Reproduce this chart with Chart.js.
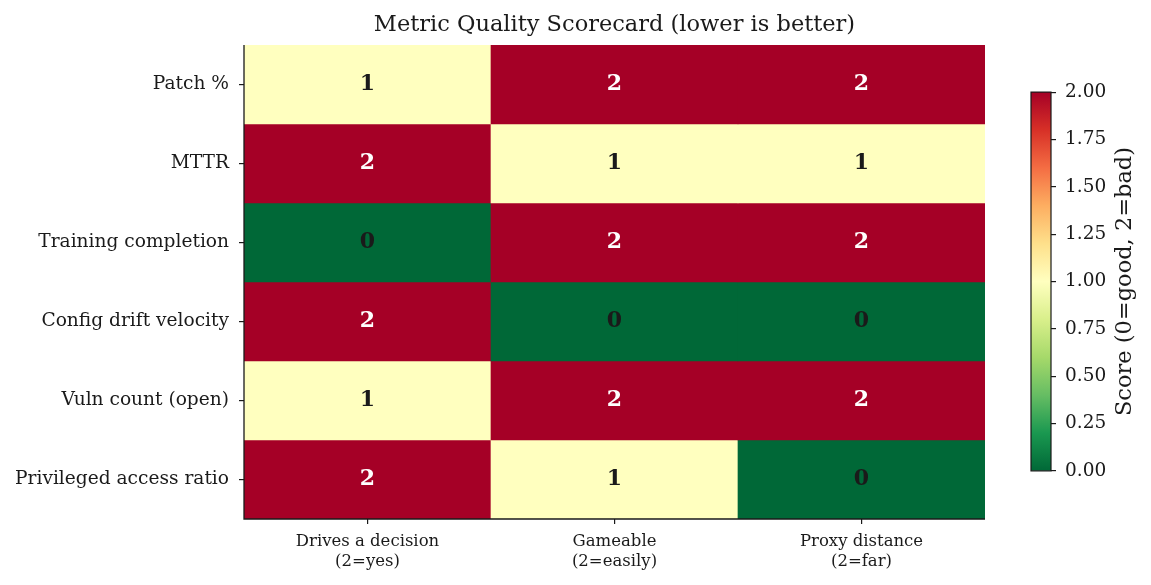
<!DOCTYPE html>
<html>
<head>
<meta charset="utf-8">
<script src="https://cdn.jsdelivr.net/npm/chart.js@4"></script>
<style>
    html, body { margin: 0; padding: 0; background: #ffffff; }
    #wrap { position: relative; width: 1151px; height: 585px; }
    #heatCanvas { position: absolute; left: 0; top: 0; }
    #barCanvas { position: absolute; left: 1011px; top: 72px; }
</style>
</head>
<body>
<div id="wrap">
    <canvas id="heatCanvas" width="1151" height="585"></canvas>
    <canvas id="barCanvas" width="140" height="419"></canvas>
</div>
<script>
// ========================================
// Metric Quality Scorecard - heatmap
// ========================================

const metricNames = ['Patch %', 'MTTR', 'Training completion', 'Config drift velocity', 'Vuln count (open)', 'Privileged access ratio'];
const criteriaLabels = [['Drives a decision', '(2=yes)'], ['Gameable', '(2=easily)'], ['Proxy distance', '(2=far)']];

// score per metric, one array per criterion (0 = good, 2 = bad)
const drivesDecision = [1, 2, 0, 2, 1, 2];
const gameable = [2, 1, 2, 0, 2, 1];
const proxyDistance = [2, 1, 2, 0, 2, 0];

const scoreMin = 0;
const scoreMax = 2;
const colorbarTicks = [0, 0.25, 0.5, 0.75, 1, 1.25, 1.5, 1.75, 2];

const FONT = 'DejaVu Serif';
const INK = '#1a1a1a';

// RdYlGn reversed (low = green, high = red)
const rdylgnR = ['#006837', '#1a9850', '#66bd63', '#a6d96a', '#d9ef8b', '#ffffbf', '#fee08b', '#fdae61', '#f46d43', '#d73027', '#a50026'];

function hexToRgb(h) {
    return [parseInt(h.slice(1, 3), 16), parseInt(h.slice(3, 5), 16), parseInt(h.slice(5, 7), 16)];
}

function scoreColor(v) {
    const t = (v - scoreMin) / (scoreMax - scoreMin) * (rdylgnR.length - 1);
    const i = Math.min(Math.floor(t), rdylgnR.length - 2);
    const f = t - i;
    const a = hexToRgb(rdylgnR[i]);
    const b = hexToRgb(rdylgnR[i + 1]);
    const c = a.map((x, k) => Math.round(x + (b[k] - x) * f));
    return 'rgb(' + c.join(',') + ')';
}

document.addEventListener('DOMContentLoaded', function () {
    initHeatmap();
    initColorbar();
});

function initHeatmap() {
    const columns = [drivesDecision, gameable, proxyDistance];

    // one floating-bar dataset per metric row
    const datasets = metricNames.map((name, r) => ({
        label: name,
        data: columns.map(() => [r, r + 1]),
        scores: columns.map(col => col[r]),
        backgroundColor: columns.map(col => scoreColor(col[r])),
        borderWidth: 0,
        barPercentage: 1,
        categoryPercentage: 1,
        grouped: false
    }));

    const cellText = {
        id: 'cellText',
        afterDatasetsDraw(chart) {
            const ctx = chart.ctx;
            const xs = chart.scales.x;
            const ys = chart.scales.y;
            const a = chart.chartArea;
            ctx.save();
            ctx.font = 'bold 22px "' + FONT + '"';
            ctx.textAlign = 'center';
            ctx.textBaseline = 'middle';
            chart.data.datasets.forEach((ds, r) => {
                ds.scores.forEach((v, c) => {
                    ctx.fillStyle = v >= 1.5 ? '#ffffff' : INK;
                    ctx.fillText(String(v), xs.getPixelForValue(c), ys.getPixelForValue(r + 0.5));
                });
            });
            // left and bottom spines on top of the cells
            ctx.strokeStyle = INK;
            ctx.lineWidth = 1.3;
            ctx.beginPath();
            ctx.moveTo(a.left, a.top);
            ctx.lineTo(a.left, a.bottom);
            ctx.lineTo(a.right, a.bottom);
            ctx.stroke();
            ctx.restore();
        }
    };

    new Chart(document.getElementById('heatCanvas'), {
        type: 'bar',
        data: { labels: criteriaLabels, datasets: datasets },
        plugins: [cellText],
        options: {
            responsive: false,
            animation: false,
            layout: { padding: { left: 0, right: 166, top: 0, bottom: 0 } },
            plugins: {
                legend: { display: false },
                tooltip: { enabled: false },
                title: {
                    display: true,
                    text: 'Metric Quality Scorecard (lower is better)',
                    fullSize: false,
                    color: INK,
                    font: { family: FONT, size: 22.5, weight: 'normal', lineHeight: 1.2 },
                    padding: { top: 12, bottom: 6 }
                }
            },
            scales: {
                x: {
                    afterFit(scale) { scale.height = 66; },
                    grid: { offset: false, drawOnChartArea: false, tickLength: 5, color: INK, lineWidth: 1.2 },
                    border: { display: false },
                    ticks: {
                        color: INK,
                        padding: 8,
                        maxRotation: 0,
                        font: { family: FONT, size: 16.5, lineHeight: 1.2 }
                    }
                },
                y: {
                    type: 'linear',
                    min: 0,
                    max: metricNames.length,
                    reverse: true,
                    afterFit(scale) { scale.width = 244; },
                    afterBuildTicks(scale) {
                        scale.ticks = metricNames.map((_, i) => ({ value: i + 0.5 }));
                    },
                    grid: { drawOnChartArea: false, tickLength: 5, color: INK, lineWidth: 1.2 },
                    border: { display: false },
                    ticks: {
                        color: INK,
                        padding: 10,
                        font: { family: FONT, size: 18.6 },
                        callback: v => metricNames[Math.floor(v)]
                    }
                }
            }
        }
    });
}

function initColorbar() {
    const outline = {
        id: 'cbOutline',
        afterDraw(chart) {
            const a = chart.chartArea;
            const ctx = chart.ctx;
            ctx.save();
            ctx.strokeStyle = INK;
            ctx.lineWidth = 1.2;
            ctx.strokeRect(a.left, a.top, a.right - a.left, a.bottom - a.top);
            // rotated axis label, reading bottom to top
            ctx.fillStyle = INK;
            ctx.font = '22.5px "' + FONT + '"';
            ctx.textAlign = 'center';
            ctx.textBaseline = 'middle';
            ctx.translate(a.right + 74, (a.top + a.bottom) / 2);
            ctx.rotate(-Math.PI / 2);
            ctx.fillText('Score (0=good, 2=bad)', 0, 0);
            ctx.restore();
        }
    };

    new Chart(document.getElementById('barCanvas'), {
        type: 'bar',
        data: {
            labels: [''],
            datasets: [{
                data: [[scoreMin, scoreMax]],
                borderWidth: 0,
                barPercentage: 1,
                categoryPercentage: 1,
                backgroundColor(ctx) {
                    const area = ctx.chart.chartArea;
                    if (!area) return '#ffffbf';
                    const g = ctx.chart.ctx.createLinearGradient(0, area.bottom, 0, area.top);
                    rdylgnR.forEach((c, i) => g.addColorStop(i / (rdylgnR.length - 1), c));
                    return g;
                }
            }]
        },
        plugins: [outline],
        options: {
            responsive: false,
            animation: false,
            layout: { padding: { left: 20, right: 0, top: 20, bottom: 20 } },
            plugins: { legend: { display: false }, tooltip: { enabled: false } },
            scales: {
                x: { display: false },
                y: {
                    position: 'right',
                    min: scoreMin,
                    max: scoreMax,
                    afterFit(scale) { scale.width = 100; },
                    afterBuildTicks(scale) {
                        scale.ticks = colorbarTicks.map(v => ({ value: v }));
                    },
                    grid: { drawOnChartArea: false, tickLength: 5, color: INK, lineWidth: 1.2 },
                    border: { display: false },
                    ticks: {
                        color: INK,
                        padding: 9,
                        font: { family: FONT, size: 18.5 },
                        callback: v => v.toFixed(2)
                    }
                }
            }
        }
    });
}
</script>
</body>
</html>
